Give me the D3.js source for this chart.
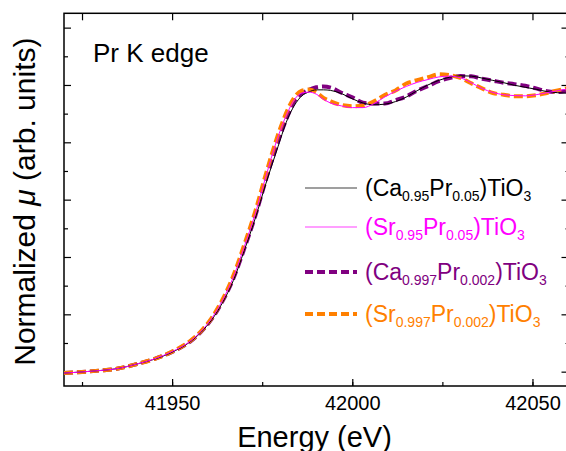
<!DOCTYPE html>
<html>
<head>
<meta charset="utf-8">
<script src="https://cdn.jsdelivr.net/npm/d3@7"></script>
<style>
  body { margin: 0; background: #fff; }
  svg { display: block; font-family: Arial, "Liberation Sans", sans-serif; }
</style>
</head>
<body>
<svg width="566" height="451"></svg>
<script>
// energy grid (eV)
const energy = [41920, 41925, 41930, 41935, 41940, 41945, 41950, 41955, 41958, 41961,
  41964, 41967, 41970, 41973, 41976, 41979, 41982, 41984, 41986, 41988, 41990, 41992,
  41994, 41997, 42000, 42003, 42006, 42009, 42012, 42015, 42018, 42021, 42024, 42027,
  42030, 42033, 42036, 42039, 42042, 42045, 42048, 42051, 42054, 42057, 42060];

// normalized mu for each sample
const caPr005 = [-0.005, -0.001, 0.004, 0.011, 0.026, 0.043, 0.068, 0.104, 0.137, 0.181,
  0.241, 0.318, 0.422, 0.532, 0.655, 0.770, 0.880, 0.930, 0.962, 0.976, 0.983, 0.983,
  0.981, 0.970, 0.952, 0.937, 0.931, 0.933, 0.942, 0.958, 0.980, 1.000, 1.016, 1.027,
  1.032, 1.031, 1.024, 1.016, 1.008, 0.999, 0.992, 0.985, 0.977, 0.973, 0.971];
const srPr005 = [-0.005, -0.001, 0.004, 0.011, 0.026, 0.044, 0.070, 0.106, 0.140, 0.186,
  0.249, 0.330, 0.435, 0.548, 0.680, 0.805, 0.903, 0.950, 0.972, 0.975, 0.968, 0.950,
  0.937, 0.927, 0.921, 0.921, 0.935, 0.958, 0.978, 0.995, 1.009, 1.019, 1.028, 1.031,
  1.025, 1.008, 0.988, 0.974, 0.966, 0.963, 0.962, 0.966, 0.973, 0.980, 0.987];
const caPr0002 = [-0.005, -0.001, 0.004, 0.011, 0.026, 0.044, 0.069, 0.105, 0.139, 0.184,
  0.246, 0.325, 0.428, 0.540, 0.668, 0.788, 0.890, 0.945, 0.970, 0.983, 0.992, 0.995,
  0.991, 0.973, 0.957, 0.938, 0.935, 0.935, 0.947, 0.960, 0.980, 0.996, 1.013, 1.024,
  1.031, 1.030, 1.022, 1.015, 1.008, 1.003, 0.997, 0.988, 0.978, 0.975, 0.982];
const srPr0002 = [-0.005, -0.001, 0.004, 0.011, 0.026, 0.044, 0.070, 0.107, 0.141, 0.188,
  0.252, 0.335, 0.442, 0.556, 0.688, 0.812, 0.912, 0.958, 0.980, 0.984, 0.975, 0.955,
  0.943, 0.930, 0.926, 0.928, 0.943, 0.965, 0.981, 1.005, 1.017, 1.027, 1.037, 1.034,
  1.025, 1.006, 0.988, 0.972, 0.966, 0.961, 0.961, 0.964, 0.972, 0.981, 0.990];

const xTickLabels = [41950, 42000, 42050];

// legend labels: [text, isSubscript]
const legendLabels = [
  [['(Ca', 0], ['0.95', 1], ['Pr', 0], ['0.05', 1], [')TiO', 0], ['3', 1]],
  [['(Sr', 0], ['0.95', 1], ['Pr', 0], ['0.05', 1], [')TiO', 0], ['3', 1]],
  [['(Ca', 0], ['0.997', 1], ['Pr', 0], ['0.002', 1], [')TiO', 0], ['3', 1]],
  [['(Sr', 0], ['0.997', 1], ['Pr', 0], ['0.002', 1], [')TiO', 0], ['3', 1]]
];

const series = [
  { values: caPr005, color: '#000000', width: 1, dash: null, legendY: 188 },
  { values: srPr005, color: '#ff00ff', width: 1, dash: null, legendY: 227 },
  { values: caPr0002, color: '#800080', width: 4, dash: '9,4', legendY: 272 },
  { values: srPr0002, color: '#ff8000', width: 4, dash: '9,4', legendY: 314 }
];

const svg = d3.select('svg');
const plotL = 64, plotR = 568.5, plotT = 13.3, plotB = 386;

const x = d3.scaleLinear().domain([41920, 42060]).range([plotL, plotR]);
const y = d3.scaleLinear().domain([-0.05, 1.25]).range([plotB, plotT]);

svg.append('defs').append('clipPath').attr('id', 'clip')
  .append('rect')
  .attr('x', plotL).attr('y', plotT)
  .attr('width', plotR - plotL).attr('height', plotB - plotT);

// axes with inward ticks
const xMinor = d3.range(41925, 42060, 25);
const yTicks = d3.range(0, 1.21, 0.1);

svg.append('g')
  .attr('transform', `translate(0,${plotB})`)
  .call(d3.axisBottom(x).tickValues(xMinor).tickSize(-4).tickFormat(''))
  .call(g => g.select('.domain').remove());
svg.append('g')
  .attr('transform', `translate(0,${plotB})`)
  .call(d3.axisBottom(x).tickValues(xTickLabels).tickSize(-7).tickPadding(10).tickFormat(d3.format('d')))
  .call(g => g.select('.domain').remove())
  .call(g => g.selectAll('text').attr('font-size', 20).attr('fill', '#000').attr('font-family', 'Arial, "Liberation Sans", sans-serif'));
svg.append('g')
  .attr('transform', `translate(0,${plotT})`)
  .call(d3.axisTop(x).tickValues(xMinor).tickSize(-7).tickFormat(''))
  .call(g => g.select('.domain').remove());

svg.append('g')
  .attr('transform', `translate(${plotL},0)`)
  .call(d3.axisLeft(y).tickValues(yTicks).tickSize(-4).tickFormat(''))
  .call(g => g.select('.domain').remove())
  .call(g => g.selectAll('line').filter((d, i) => i % 2 === 0).attr('x2', 7));
svg.append('g')
  .attr('transform', `translate(${plotR},0)`)
  .call(d3.axisRight(y).tickValues(yTicks).tickSize(-3).tickFormat(''))
  .call(g => g.select('.domain').remove())
  .call(g => g.selectAll('line').filter((d, i) => i % 2 === 0).attr('x2', -7));

svg.selectAll('.tick line').attr('stroke', '#000').attr('stroke-width', 1.2);

svg.append('rect')
  .attr('x', plotL).attr('y', plotT)
  .attr('width', plotR - plotL).attr('height', plotB - plotT)
  .attr('fill', 'none').attr('stroke', '#000').attr('stroke-width', 1.5);

// curves
const line = d3.line()
  .x((d, i) => x(energy[i]))
  .y(d => y(d))
  .curve(d3.curveMonotoneX);

const drawOrder = [2, 3, 0, 1];
svg.append('g').attr('clip-path', 'url(#clip)')
  .selectAll('path')
  .data(drawOrder.map(i => series[i]))
  .join('path')
  .attr('d', d => line(d.values))
  .attr('fill', 'none')
  .attr('stroke', d => d.color)
  .attr('stroke-width', d => d.width)
  .attr('stroke-dasharray', d => d.dash);

// legend
const legend = svg.append('g');
series.forEach((s, i) => {
  legend.append('line')
    .attr('x1', 305).attr('x2', 357)
    .attr('y1', s.legendY).attr('y2', s.legendY)
    .attr('stroke', s.color)
    .attr('stroke-width', s.dash ? 4 : 1)
    .attr('stroke-dasharray', s.dash ? '8,4' : null)
    .attr('opacity', s.dash ? 1 : 0.75);
  const t = legend.append('text')
    .attr('x', 365).attr('y', s.legendY + 8)
    .attr('fill', s.color)
    .attr('font-size', 23);
  let shifted = false;
  legendLabels[i].forEach(([txt, sub]) => {
    const ts = t.append('tspan').text(txt);
    if (sub && !shifted) { ts.attr('font-size', 14).attr('dy', 5); shifted = true; }
    else if (sub) { ts.attr('font-size', 14); }
    else if (shifted) { ts.attr('dy', -5); shifted = false; }
  });
});

svg.append('text')
  .attr('x', 93).attr('y', 62)
  .attr('font-size', 26)
  .text('Pr K edge');

svg.append('text')
  .attr('x', (plotL + 565) / 2).attr('y', 447)
  .attr('text-anchor', 'middle')
  .attr('font-size', 29)
  .text('Energy (eV)');

const yl = svg.append('text')
  .attr('transform', `translate(35,${(plotT + plotB) / 2 + 2}) rotate(-90)`)
  .attr('text-anchor', 'middle')
  .attr('font-size', 30);
yl.append('tspan').text('Normalized ');
yl.append('tspan').attr('font-style', 'italic').text('μ');
yl.append('tspan').text(' (arb. units)');
</script>
</body>
</html>
